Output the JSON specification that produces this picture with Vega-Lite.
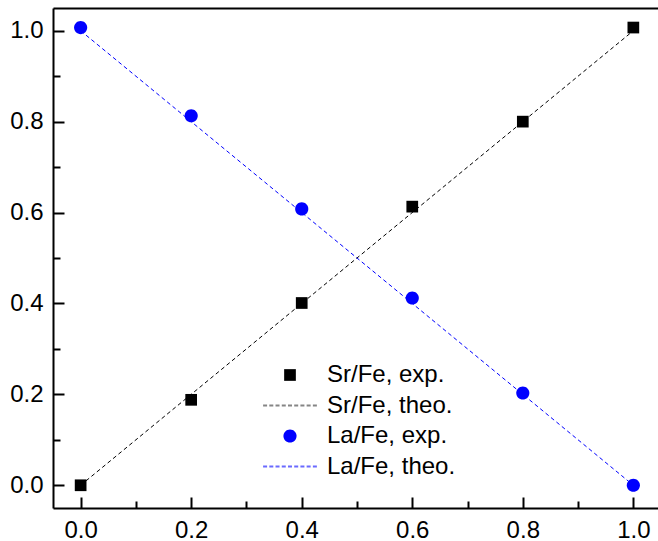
{
  "$schema": "https://vega.github.io/schema/vega-lite/v6.json",
  "width": 605,
  "height": 500,
  "autosize": {"type": "none"},
  "padding": {"left": 53, "top": 8, "right": 0, "bottom": 33},
  "background": "white",
  "config": {
    "view": {"stroke": null},
    "font": "Liberation Sans",
    "axis": {"grid": false, "title": null, "labelFont": "Liberation Sans", "labelFontSize": 24, "labelColor": "black", "tickColor": "black", "domainColor": "black", "tickWidth": 2, "domainWidth": 2, "labelFlush": false, "labelOverlap": false}
  },
  "data": {
    "values": [
      {"series": "Sr/Fe, exp.", "x": 0.0, "y": 0.0},
      {"series": "Sr/Fe, exp.", "x": 0.2, "y": 0.188},
      {"series": "Sr/Fe, exp.", "x": 0.4, "y": 0.401},
      {"series": "Sr/Fe, exp.", "x": 0.6, "y": 0.613},
      {"series": "Sr/Fe, exp.", "x": 0.8, "y": 0.8},
      {"series": "Sr/Fe, exp.", "x": 1.0, "y": 1.007},
      {"series": "La/Fe, exp.", "x": 0.0, "y": 1.007},
      {"series": "La/Fe, exp.", "x": 0.2, "y": 0.813},
      {"series": "La/Fe, exp.", "x": 0.4, "y": 0.608},
      {"series": "La/Fe, exp.", "x": 0.6, "y": 0.412},
      {"series": "La/Fe, exp.", "x": 0.8, "y": 0.203},
      {"series": "La/Fe, exp.", "x": 1.0, "y": 0.0},
      {"series": "Sr/Fe, theo.", "x": 0.0, "y": 0.0},
      {"series": "Sr/Fe, theo.", "x": 1.0, "y": 1.0},
      {"series": "La/Fe, theo.", "x": 0.0, "y": 1.0},
      {"series": "La/Fe, theo.", "x": 1.0, "y": 0.0}
    ]
  },
  "layer": [
    {
      "transform": [{"filter": "datum.series == 'Sr/Fe, theo.'"}],
      "mark": {"type": "line", "color": "black", "strokeWidth": 1, "strokeDash": [4, 3]},
      "encoding": {
        "x": {"field": "x", "type": "quantitative", "scale": {"domain": [-0.05, 1.0446], "nice": false, "zero": false},
              "axis": {"orient": "bottom", "values": [0, 0.2, 0.4, 0.6, 0.8, 1.0], "format": ".1f", "tickSize": -11, "labelPadding": 21}},
        "y": {"field": "y", "type": "quantitative", "scale": {"domain": [-0.05, 1.05], "nice": false, "zero": false},
              "axis": {"orient": "left", "values": [0, 0.2, 0.4, 0.6, 0.8, 1.0], "format": ".1f", "tickSize": -11, "labelPadding": 21}}
      }
    },
    {
      "transform": [{"filter": "datum.series == 'La/Fe, theo.'"}],
      "mark": {"type": "line", "color": "blue", "strokeWidth": 1, "strokeDash": [4, 3]},
      "encoding": {
        "x": {"field": "x", "type": "quantitative", "scale": {"domain": [-0.05, 1.0446], "nice": false, "zero": false},
              "axis": {"orient": "bottom", "values": [0.1, 0.3, 0.5, 0.7, 0.9], "tickSize": -7, "labels": false, "domain": false}},
        "y": {"field": "y", "type": "quantitative", "scale": {"domain": [-0.05, 1.05], "nice": false, "zero": false},
              "axis": {"orient": "left", "values": [0.1, 0.3, 0.5, 0.7, 0.9], "tickSize": -7, "labels": false, "domain": false}}
      }
    },
    {
      "transform": [{"filter": "indexof(datum.series, 'exp') >= 0"}],
      "mark": {"type": "point", "filled": true, "opacity": 1, "size": 3136},
      "encoding": {
        "x": {"field": "x", "type": "quantitative", "scale": {"domain": [-0.05, 1.0446], "nice": false, "zero": false},
              "axis": {"orient": "top", "ticks": false, "labels": false, "domain": true}},
        "y": {"field": "y", "type": "quantitative", "scale": {"domain": [-0.05, 1.05], "nice": false, "zero": false}, "axis": null},
        "color": {"field": "series", "type": "nominal",
          "scale": {"domain": ["Sr/Fe, exp.", "Sr/Fe, theo.", "La/Fe, exp.", "La/Fe, theo."], "range": ["black", "#858585", "blue", "#6a6aff"]},
          "legend": {"title": null, "orient": "none", "legendX": 208, "legendY": 355, "clipHeight": 24, "rowPadding": 6.5, "padding": 0, "symbolOffset": 0,
            "labelFont": "Liberation Sans", "labelFontSize": 24, "labelColor": "black", "labelOffset": 8, "symbolSize": 3136, "symbolOpacity": 1}},
        "shape": {"field": "series", "type": "nominal",
          "scale": {"domain": ["Sr/Fe, exp.", "Sr/Fe, theo.", "La/Fe, exp.", "La/Fe, theo."],
            "range": [
              "M-0.209,-0.209H0.209V0.209H-0.209Z",
              "M-0.961,-0.036h0.143v0.072h-0.143Z M-0.739,-0.036h0.143v0.072h-0.143Z M-0.517,-0.036h0.143v0.072h-0.143Z M-0.294,-0.036h0.143v0.072h-0.143Z M-0.072,-0.036h0.143v0.072h-0.143Z M0.15,-0.036h0.143v0.072h-0.143Z M0.372,-0.036h0.143v0.072h-0.143Z M0.594,-0.036h0.143v0.072h-0.143Z M0.817,-0.036h0.143v0.072h-0.143Z",
              "M-0.235,0A0.235,0.235,0,1,1,0.235,0A0.235,0.235,0,1,1,-0.235,0Z",
              "M-0.961,-0.036h0.143v0.072h-0.143Z M-0.739,-0.036h0.143v0.072h-0.143Z M-0.517,-0.036h0.143v0.072h-0.143Z M-0.294,-0.036h0.143v0.072h-0.143Z M-0.072,-0.036h0.143v0.072h-0.143Z M0.15,-0.036h0.143v0.072h-0.143Z M0.372,-0.036h0.143v0.072h-0.143Z M0.594,-0.036h0.143v0.072h-0.143Z M0.817,-0.036h0.143v0.072h-0.143Z"
            ]},
          "legend": {"title": null, "orient": "none", "legendX": 208, "legendY": 355, "clipHeight": 24, "rowPadding": 6.5, "padding": 0, "symbolOffset": 0,
            "labelFont": "Liberation Sans", "labelFontSize": 24, "labelColor": "black", "labelOffset": 8, "symbolSize": 3136, "symbolOpacity": 1}}
      }
    }
  ],
  "resolve": {"axis": {"x": "independent", "y": "independent"}}
}
